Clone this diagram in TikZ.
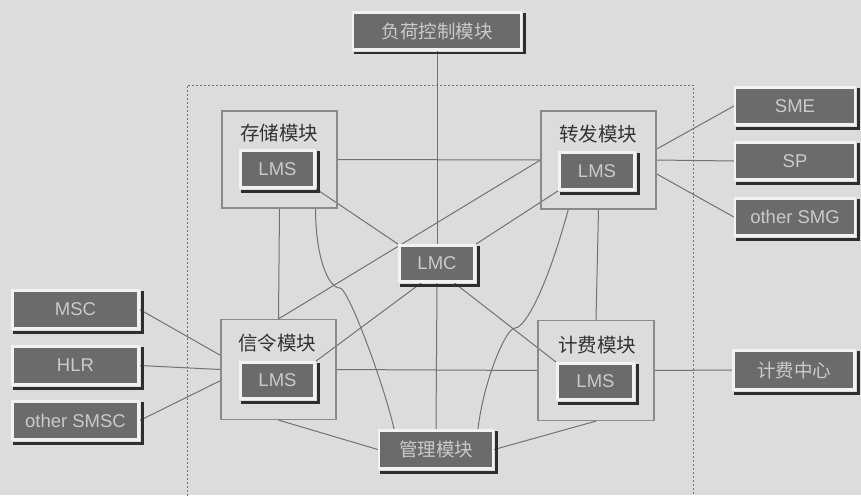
\documentclass[tikz,border=0pt]{standalone}
\usepackage{fontspec}
\setmainfont{Liberation Sans}
\newfontfamily\cjk{Noto Sans CJK SC}
\usetikzlibrary{calc}
\pgfdeclarelayer{bg}
\pgfdeclarelayer{ln}
\pgfsetlayers{bg,ln,main}
\definecolor{bgc}{HTML}{DCDCDC}
\definecolor{dkfill}{HTML}{6B6B6B}
\definecolor{hilite}{HTML}{F2F2F2}
\definecolor{shadowc}{HTML}{2E2E2E}
\definecolor{txtc}{HTML}{CACACA}
\definecolor{linec}{HTML}{727272}
\definecolor{modc}{HTML}{8A8A8A}
\definecolor{titlec}{HTML}{333333}
\tikzset{
  dk/.style={fill=dkfill, draw=hilite, line width=2.4pt, inner sep=0pt,
    text=txtc, font=\fontsize{18.5}{20}\selectfont},
  shadowline/.style={draw=shadowc, line width=2.6pt},
  modbox/.style={draw=modc, line width=1.2pt, inner sep=0pt},
  modtitle/.style={text=titlec, inner sep=0pt, font=\fontsize{19.5}{20}\selectfont\cjk},
  conn/.style={draw=linec, line width=1pt},
}
\newcommand\dkbox[6]{%
  \node[dk, minimum width=#4pt, minimum height=#5pt] (#1) at (#2,#3) {#6};
  \draw[shadowline] ($(#1.north east)+(2.5,2)$) -- ($(#1.south east)+(2.5,2.5)$) -- ($(#1.south west)+(2,2.5)$);}
\begin{document}
\begin{tikzpicture}[x=1pt,y=-1pt]
\useasboundingbox (0,0) rectangle (861,495);
\begin{pgfonlayer}{bg}
  \fill[bgc] (0,0) rectangle (861,495);
  \draw[linec, line width=0.8pt, dash pattern=on 2pt off 2pt] (187,500) -- (187,85) -- (693,85) -- (693,500);
\end{pgfonlayer}

% module frames
\node[modbox, minimum width=115pt, minimum height=97pt] (ccm) at (279.5,159.5) {};
\node[modbox, minimum width=115pt, minimum height=98pt] (zfm) at (598.5,160) {};
\node[modbox, minimum width=115pt, minimum height=100pt] (xlm) at (278.5,369.5) {};
\node[modbox, minimum width=116pt, minimum height=100pt] (jfm) at (596,370.5) {};

\node[modtitle] (cct) at (279,133) {存储模块};
\node[modtitle] (zft) at (598,134) {转发模块};
\node[modtitle] (xlt) at (277,343) {信令模块};
\node[modtitle] (jft) at (597,345) {计费模块};

% dark boxes
\dkbox{load}{437}{31}{168}{37}{\cjk 负荷控制模块}
\dkbox{cclms}{277.5}{169}{74}{37}{LMS}
\dkbox{zflms}{597}{171}{75}{37}{LMS}
\dkbox{xllms}{277.5}{380.5}{74}{36}{LMS}
\dkbox{jflms}{595.5}{381.5}{76}{36}{LMS}
\dkbox{lmc}{437}{263.5}{75}{36}{LMC}
\dkbox{gl}{436}{449.5}{114}{38}{\cjk 管理模块}
\dkbox{sme}{795}{106}{120}{37}{SME}
\dkbox{sp}{795}{161}{120}{37}{SP}
\dkbox{smg}{795}{217}{120}{37}{other SMG}
\dkbox{jfzx}{794}{370}{121}{39}{\cjk 计费中心}
\dkbox{msc}{75.5}{309.5}{126}{38}{MSC}
\dkbox{hlr}{75.5}{365.5}{126}{38}{HLR}
\dkbox{smsc}{75.5}{420.5}{126}{38}{other SMSC}

\coordinate (k1) at (340,288);
\coordinate (k2) at (515,328);

\begin{pgfonlayer}{ln}
  \draw[conn] (load.south) -- (lmc.north);
  \draw[conn] (lmc.south) -- (gl.north);
  \draw[conn] (ccm.east) -- (zfm.west);
  \draw[conn] (zfm.west) -- (xlm.north);
  \draw[conn] (cclms.south east) -- (lmc.north west);
  \draw[conn] (zflms.south west) -- (lmc.north east);
  \draw[conn] (xllms.north east) -- ($(lmc.south west)!0.3!(lmc.south east)$);
  \draw[conn] ($(lmc.south west)!0.72!(lmc.south east)$) -- (jflms.north west);
  \draw[conn] (xlm.east) -- (jfm.west);
  \draw[conn] (ccm.south) -- (xlm.north);
  \draw[conn] (zfm.south) -- (jfm.north);
  \draw[conn] (xlm.south) -- (gl.west);
  \draw[conn] (jfm.south) -- (gl.east);
  \draw[conn] ($(ccm.south west)!0.81!(ccm.south east)$) .. controls +(0,48) and +(-12,0) .. (k1)
      .. controls +(8,0) and +(-10,-45) .. ($(gl.north west)!0.14!(gl.north east)$);
  \draw[conn] ($(zfm.south west)!0.24!(zfm.south east)$) .. controls +(-22,80) and +(10,0) .. (k2)
      .. controls +(-9,0) and +(6,-50) .. ($(gl.north west)!0.86!(gl.north east)$);
  \draw[conn] ($(zfm.north east)!0.39!(zfm.south east)$) -- (sme.west);
  \draw[conn] (zfm.east) -- (sp.west);
  \draw[conn] ($(zfm.north east)!0.64!(zfm.south east)$) -- (smg.west);
  \draw[conn] (jfm.east) -- (jfzx.west);
  \draw[conn] (msc.east) -- ($(xlm.north west)!0.36!(xlm.south west)$);
  \draw[conn] (hlr.east) -- (xlm.west);
  \draw[conn] (smsc.east) -- ($(xlm.north west)!0.61!(xlm.south west)$);
\end{pgfonlayer}
\end{tikzpicture}
\end{document}
